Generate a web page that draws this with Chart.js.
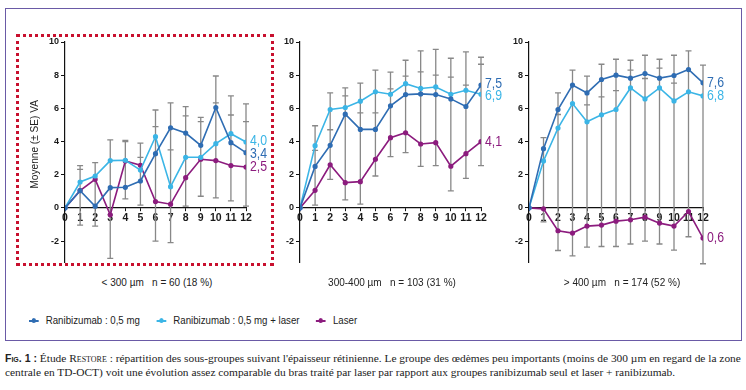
<!DOCTYPE html>
<html>
<head>
<meta charset="utf-8">
<script src="https://cdn.jsdelivr.net/npm/chart.js@4.4.0/dist/chart.umd.min.js"></script>
<style>
body { margin:0; width:746px; height:390px; background:#fff; position:relative; overflow:hidden;
       font-family:'Liberation Sans',sans-serif; color:#222; }
#frame { position:absolute; left:5px; top:8px; width:735px; height:331px; border:1px solid #6a5aa6; }
#focus { position:absolute; left:16px; top:34px; width:252px; height:226px; border:3px dotted #c8102e; }
canvas { position:absolute; }
.sub { position:absolute; top:276px; width:220px; text-align:center; font-size:11.5px; white-space:nowrap;
       transform:scaleX(0.87); }
#legend { position:absolute; top:314px; left:29px; font-size:11px; white-space:nowrap;
          transform:scaleX(0.88); transform-origin:0 50%; }
#legend .it { display:inline-block; margin-right:19px; }
#legend .mk { display:inline-block; width:11px; height:2px; position:relative; vertical-align:middle; margin-right:8px; }
#legend .mk i { position:absolute; left:3px; top:-2px; width:5px; height:5px; border-radius:50%; background:inherit; }
#caption { position:absolute; left:5px; top:351px; font-family:'Liberation Serif',serif; font-size:11.4px;
           line-height:14px; white-space:nowrap; color:#222; }
#caption b { font-family:'Liberation Sans',sans-serif; font-size:10.5px; font-variant:small-caps; }
</style>
</head>
<body>
<div id="frame"></div>
<div id="focus"></div>
<canvas id="p1" width="260" height="240" style="left:20px;top:30px"></canvas>
<canvas id="p2" width="260" height="240" style="left:255px;top:30px"></canvas>
<canvas id="p3" width="255" height="240" style="left:484px;top:30px"></canvas>
<div class="sub" style="left:47px">&lt; 300 µm &nbsp; n = 60 (18 %)</div>
<div class="sub" style="left:282px">300-400 µm &nbsp; n = 103 (31 %)</div>
<div class="sub" style="left:512px">&gt; 400 µm &nbsp; n = 174 (52 %)</div>
<div id="legend"></div>
<div id="caption"><b>Fig. 1 :</b> Étude <span style="font-variant:small-caps">Restore</span> : répartition des sous-groupes suivant l'épaisseur rétinienne. Le groupe des œdèmes peu importants (moins de 300 µm en regard de la zone<br>centrale en TD-OCT) voit une évolution assez comparable du bras traité par laser par rapport aux groupes ranibizumab seul et laser + ranibizumab.</div>
<script>
// months on the x axis, and the y ticks
var months = [0,1,2,3,4,5,6,7,8,9,10,11,12];
var yTicks = [-2,0,2,4,6,8,10];

var seriesNames = ["Ranibizumab : 0,5 mg", "Ranibizumab : 0,5 mg + laser", "Laser"];
var colors = ["#2f6db3", "#3bb5e6", "#8c1c7e"];

// < 300 µm
var rani1  = [0,1.04,0.1,1.22,1.24,1.62,3.27,4.83,4.51,3.77,6.05,3.93,3.33];
var raniL1 = [0,1.56,1.92,2.85,2.87,2.28,4.29,1.28,3.05,3.05,3.87,4.47,3.97];
var laser1 = [0,1.04,1.72,-0.42,2.83,2.57,0.38,0.22,1.82,2.93,2.85,2.55,2.46];
var ends1  = ["3,4","4,0","2,5"];
// error bar caps per month
var err1 = [[],[2.55,2.32,-1.04],[2.73,-1.1],[4.1,-3.05],[4.07,4.0,0.54],[3.9,3.05,0.16],
            [5.9,4.9,-2.0],[6.33,3.5,-2.1],[6.1,5.55,0.1],[5.45,5.2,0.7],[7.95,6.33,0.6],
            [6.75,5.6,0.42],[6.27,5.2,0.1]];

// 300-400 µm
var rani2  = [0,2.5,3.77,5.65,4.73,4.73,6.15,6.83,6.87,6.83,6.57,6.11,7.4];
var raniL2 = [0,3.75,5.93,6.05,6.43,7.0,6.85,7.49,7.2,7.29,6.85,7.09,6.85];
var laser2 = [0,1.06,2.6,1.52,1.58,2.93,4.23,4.53,3.85,3.93,2.51,3.27,3.99];
var ends2  = ["7,5","6,9","4,1"];
var err2 = [[],[4.95,3.47,0.16],[6.93,4.71,1.72],[7.23,6.75,0.48],[7.52,5.73,0.22],[8.3,5.73,1.92],
            [8.18,7.17,3.09],[8.9,7.94,3.33],[9.46,8.2,2.5],[9.56,8.0,2.55],[9.02,7.88,1.02],
            [9.4,7.4,1.78],[9.08,8.66,2.55]];

// > 400 µm
var rani3  = [0,3.57,5.93,7.4,6.93,7.74,8.0,7.82,8.1,7.82,7.98,8.34,7.54];
var raniL3 = [0,2.83,4.81,6.29,5.19,5.61,5.93,7.23,6.57,7.23,6.45,7.0,6.75];
var laser3 = [0,-0.06,-1.38,-1.52,-1.1,-1.04,-0.8,-0.72,-0.56,-0.92,-1.1,-0.22,-1.82];
var ends3  = ["7,6","6,8","0,6"];
var err3 = [[],[4.23,-0.85],[6.93,5.63,-2.57],[8.3,-2.9],[7.94,6.21,-2.37],[8.66,6.69,-2.33],
            [8.96,7.07,-2.33],[8.9,8.3,-2.18],[9.2,7.8,-2.0],[8.96,8.42,-2.18],[9.2,7.52,-2.55],
            [9.46,-1.74],[8.6,-3.37]];

var F = "'Liberation Sans',sans-serif";

function makePanel(id, series, ends, errs, padRight, title) {
    var errPlugin = {
        id: 'errbars',
        beforeDatasetsDraw: function (chart) {
            var c = chart.ctx, xs = chart.scales.x, ys = chart.scales.y;
            c.save();
            c.strokeStyle = '#888';
            c.lineWidth = 1.3;
            errs.forEach(function (caps, i) {
                if (caps.length < 2) return;
                var x = xs.getPixelForValue(months[i]);
                var lo = Math.min.apply(null, caps), hi = Math.max.apply(null, caps);
                c.beginPath();
                c.moveTo(x, ys.getPixelForValue(lo));
                c.lineTo(x, ys.getPixelForValue(hi));
                caps.forEach(function (v) {
                    var y = ys.getPixelForValue(v);
                    c.moveTo(x - 3, y);
                    c.lineTo(x + 3, y);
                });
                c.stroke();
            });
            c.restore();
        },
        afterDatasetsDraw: function (chart) {
            var c = chart.ctx, xs = chart.scales.x, ys = chart.scales.y;
            var last = months.length - 1;
            var labs = series.map(function (s, k) {
                return { y: ys.getPixelForValue(s[last]), text: ends[k], color: colors[k] };
            }).sort(function (a, b) { return a.y - b.y; });
            for (var it = 0; it < 5; it++) {
                for (var j = 1; j < labs.length; j++) {
                    var d = 12.5 - (labs[j].y - labs[j - 1].y);
                    if (d > 0) { labs[j - 1].y -= d / 2; labs[j].y += d / 2; }
                }
            }
            c.save();
            c.font = "15px " + F;
            c.textBaseline = 'middle';
            c.textAlign = 'left';
            var x = xs.getPixelForValue(months[last]) + 4;
            labs.forEach(function (l) {
                c.save();
                c.translate(x, l.y);
                c.scale(0.82, 1);
                c.fillStyle = l.color;
                c.fillText(l.text, 0, 0);
                c.restore();
            });
            // y axis title, a bit condensed like the original
            if (title) {
                c.translate(15, (ys.top + ys.bottom) / 2 - 8);
                c.rotate(-Math.PI / 2);
                c.scale(0.88, 1);
                c.font = "11.5px " + F;
                c.fillStyle = '#222';
                c.textAlign = 'center';
                c.fillText(title, 0, 0);
            }
            c.restore();
        }
    };

    return new Chart(document.getElementById(id), {
        type: 'line',
        data: {
            datasets: series.map(function (s, k) {
                return {
                    label: seriesNames[k],
                    data: months.map(function (m, i) { return { x: m, y: s[i] }; }),
                    borderColor: colors[k],
                    backgroundColor: colors[k],
                    borderWidth: 1.6,
                    pointRadius: 1.8,
                    pointHoverRadius: 0,
                    tension: 0
                };
            })
        },
        options: {
            responsive: false,
            animation: false,
            events: [],
            layout: { padding: { left: 0, right: padRight, top: 12, bottom: 7 } },
            plugins: { legend: { display: false }, tooltip: { enabled: false } },
            scales: {
                x: {
                    type: 'linear', min: 0, max: 12,
                    position: { y: 0 },
                    afterBuildTicks: function (s) { s.ticks = months.map(function (v) { return { value: v }; }); },
                    border: { color: '#111', width: 1.2 },
                    grid: { drawOnChartArea: false, tickLength: 3, color: '#111' },
                    ticks: { font: { size: 10.5, weight: 'bold', family: F }, color: '#1a1a1a', padding: 1,
                             maxRotation: 0, autoSkip: false }
                },
                y: {
                    min: -3.3, max: 10,
                    afterBuildTicks: function (s) { s.ticks = yTicks.map(function (v) { return { value: v }; }); },
                    afterFit: function (s) { s.width = 45; },
                    border: { color: '#111', width: 1.2 },
                    grid: { drawOnChartArea: false, tickLength: 4, color: '#111' },
                    ticks: { font: { size: 9, weight: 'bold', family: F }, color: '#1a1a1a', padding: 2 }
                }
            }
        },
        plugins: [errPlugin]
    });
}

makePanel('p1', [rani1, raniL1, laser1], ends1, err1, 34, 'Moyenne (± SE) VA');
makePanel('p2', [rani2, raniL2, laser2], ends2, err2, 34, null);
makePanel('p3', [rani3, raniL3, laser3], ends3, err3, 36, null);

// legend
var lg = document.getElementById('legend');
seriesNames.forEach(function (n, k) {
    var it = document.createElement('span');
    it.className = 'it';
    it.innerHTML = '<span class="mk" style="background:' + colors[k] + '"><i></i></span>' + n;
    lg.appendChild(it);
});
</script>
</body>
</html>
